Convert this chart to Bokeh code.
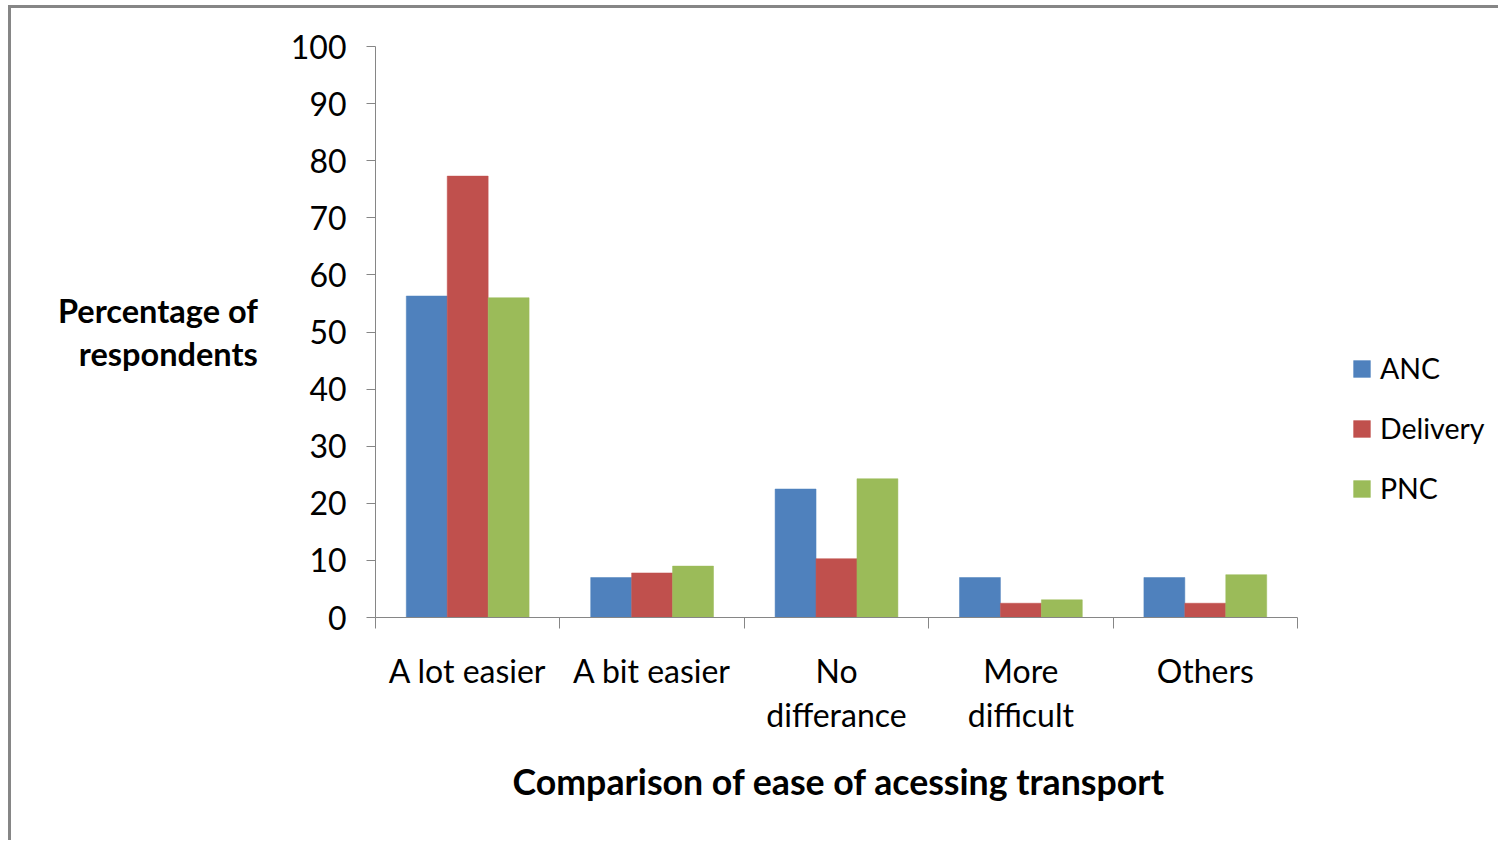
from bokeh.plotting import figure
from bokeh.models import (Range1d, FixedTicker, Legend, LegendItem, ColumnDataSource, Title)
from bokeh.transform import dodge
from bokeh.embed import file_html
from bokeh.resources import INLINE

# ---- data ----
categories = ["A lot easier", "A bit easier", "No differance", "More difficult", "Others"]
tick_labels = ["A lot easier", "A bit easier", "No\ndifferance", "More\ndifficult", "Others"]
series_names = ["ANC", "Delivery", "PNC"]
anc = [56.3, 7.0, 22.5, 7.0, 7.0]
delivery = [77.3, 7.8, 10.3, 2.5, 2.5]
pnc = [56.0, 9.0, 24.3, 3.1, 7.5]
y_ticks = [0, 10, 20, 30, 40, 50, 60, 70, 80, 90, 100]
colors = ["#4F81BD", "#C0504D", "#9BBB59"]
y_title = "Percentage of\nrespondents"
x_title = "Comparison of ease of acessing transport"

FONT = "Lato"
GRAY = "#868686"

# ---- layout constants (pixels) ----
W, H = 1490, 835
LEFT, TOP = 364, 38
AXIS_W = 922          # width of the category axis
FRAME_R = 1480        # frame extends right to hold the legend
FRAME_B = 609

n = len(categories)
centers = [i + 0.5 for i in range(n)]
bounds = list(range(n + 1))
src = ColumnDataSource(dict(cat=categories, xc=centers, ANC=anc, Delivery=delivery, PNC=pnc))

x_end = n * (FRAME_R - LEFT) / AXIS_W
p = figure(x_range=Range1d(0, x_end), y_range=Range1d(0, 100),
           width=W, height=H, output_backend="svg", toolbar_location=None,
           min_border_left=LEFT, min_border_top=TOP,
           min_border_right=W - FRAME_R, min_border_bottom=H - FRAME_B)
p.styles = {"margin-left": "8px", "margin-top": "5px",
            "border-left": "3px solid #868686", "border-top": "3px solid #868686"}
p.outline_line_color = None
p.xgrid.grid_line_color = None
p.ygrid.grid_line_color = None
p.background_fill_color = "white"
p.border_fill_color = "white"

bw = 0.222
renderers = []
for name, off, col in zip(series_names, [-bw, 0, bw], colors):
    r = p.vbar(x=dodge("xc", off), top=name, width=bw, bottom=0,
               source=src, fill_color=col, line_color=col, line_width=0.5)
    renderers.append(r)

# y axis
ya = p.yaxis[0]
ya.ticker = FixedTicker(ticks=y_ticks)
ya.axis_line_color = GRAY
ya.major_tick_line_color = GRAY
ya.major_tick_out = 9
ya.major_tick_in = 0
ya.minor_tick_line_color = None
ya.major_label_standoff = 20
ya.major_label_text_font = FONT
ya.major_label_text_font_size = "32px"
ya.major_label_text_color = "black"
ya.axis_label = y_title
ya.axis_label_text_font = FONT
ya.axis_label_text_font_style = "bold"
ya.axis_label_text_font_size = "32.5px"
ya.axis_label_text_color = "black"
ya.axis_label_text_line_height = 1.12
ya.axis_label_text_align = "center"
ya.axis_label_standoff = 30
if "axis_label_orientation" in ya.properties():
    ya.axis_label_orientation = "horizontal"

# x axis: category labels at centres, ticks at category boundaries
xa = p.xaxis[0]
xa.bounds = (0, n)
xa.ticker = FixedTicker(ticks=centers, minor_ticks=bounds)
xa.major_label_overrides = {c: t for c, t in zip(centers, tick_labels)}
xa.axis_line_color = GRAY
xa.major_tick_line_color = None
xa.major_tick_out = 0
xa.major_tick_in = 0
xa.minor_tick_line_color = GRAY
xa.minor_tick_out = 11
xa.minor_tick_in = 0
xa.major_label_standoff = 22
xa.major_label_text_font = FONT
xa.major_label_text_font_size = "32px"
xa.major_label_text_color = "black"
xa.major_label_text_line_height = 1.14

# x axis title, centred under the category axis (not under the wider frame)
xt = Title(text=x_title, align="left", offset=137, standoff=42,
           text_font=FONT, text_font_style="bold", text_font_size="35.7px",
           text_color="black")
p.add_layout(xt, "below")

legend = Legend(items=[LegendItem(label=s, renderers=[r]) for s, r in zip(series_names, renderers)],
                location=(976, 112), orientation="vertical",
                label_text_font=FONT, label_text_font_size="28.5px", label_text_color="black",
                glyph_width=21, glyph_height=21, label_standoff=8,
                spacing=26, padding=0, margin=0, border_line_color=None,
                background_fill_alpha=0)
p.add_layout(legend)

open("out.html", "w").write(file_html(p, INLINE))
